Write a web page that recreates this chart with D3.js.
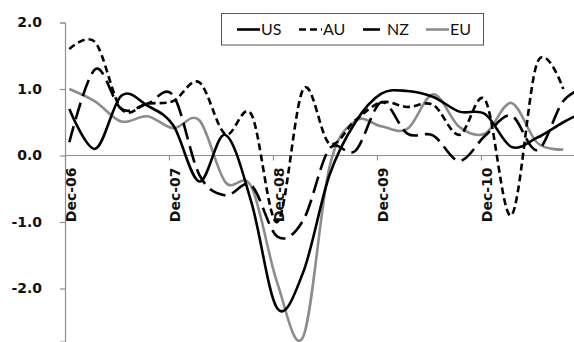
<!DOCTYPE html>
<html><head><meta charset="utf-8">
<script src="https://cdn.jsdelivr.net/npm/d3@7"></script>
<style>body{margin:0;background:#fff}svg{display:block}</style>
</head><body><svg id="c" width="574" height="342"></svg>
<script>
const quarters = ["Dec-06","Mar-07","Jun-07","Sep-07","Dec-07","Mar-08","Jun-08","Sep-08","Dec-08","Mar-09","Jun-09","Sep-09","Dec-09","Mar-10","Jun-10","Sep-10","Dec-10","Mar-11","Jun-11","Sep-11","Dec-11"];
const yearLabels = ["Dec-06","Dec-07","Dec-08","Dec-09","Dec-10"];
const yTicks = [2, 1, 0, -1, -2];
const us = [0.7, 0.1, 0.9, 0.75, 0.45, -0.39, 0.31, -0.7, -2.3, -1.75, -0.3, 0.5, 0.93, 0.97, 0.88, 0.66, 0.62, 0.13, 0.27, 0.5, 0.7];
const au = [1.6, 1.7, 0.7, 0.78, 0.82, 1.1, 0.32, 0.62, -1.0, 1.0, 0.18, 0.53, 0.8, 0.73, 0.76, 0.31, 0.83, -0.9, 1.4, 1.0, null];
const nz = [0.2, 1.3, 0.7, 0.78, 0.9, -0.29, -0.6, -0.45, -1.22, -0.97, 0.1, 0.07, 0.8, 0.33, 0.3, -0.08, 0.3, 0.6, 0.08, 0.82, 1.05];
const eu = [1.0, 0.81, 0.51, 0.59, 0.41, 0.53, -0.4, -0.47, -1.92, -2.72, -0.18, 0.52, 0.44, 0.4, 0.92, 0.43, 0.33, 0.79, 0.19, 0.09, null];
const seriesNames = ["US", "AU", "NZ", "EU"];

const svg = d3.select("#c");
const W = 574, H = 342;
const x = d3.scaleLinear().domain([-0.5, 59.5]).range([65, 585]);
const y = d3.scaleLinear().domain([-2.8, 2.0]).range([341.7, 22.5]);
const monthOf = q => q * 3;
const axisColor = "#8f8f8f";
const tickFont = "'DejaVu Sans', sans-serif";
const legFont = "Lato, 'Open Sans', sans-serif";

svg.append("defs").append("clipPath").attr("id","pc")
  .append("rect").attr("x",65).attr("y",0).attr("width",W-65).attr("height",H);

// y axis
const yAxis = d3.axisLeft(y).tickValues(yTicks).tickSize(5).tickPadding(18)
  .tickFormat(d => d.toFixed(1));
const gy = svg.append("g").attr("transform","translate(65,0)").call(yAxis);
gy.select(".domain").attr("stroke",axisColor).attr("stroke-width",1.2);
gy.selectAll(".tick line").attr("stroke",axisColor).attr("stroke-width",1.2);
gy.selectAll(".tick text").attr("font-family",tickFont).attr("font-weight","700")
  .attr("font-size","14px").attr("fill","#111");

// x axis at zero
const tickMonths = yearLabels.map((d,i)=>i*12 - 0.5);
const xAxis = d3.axisBottom(x).tickValues(tickMonths).tickSize(5).tickFormat("");
const gx = svg.append("g").attr("transform",`translate(0,${y(0)})`).call(xAxis);
gx.select(".domain").attr("d",`M65,0H${W}`).attr("stroke",axisColor).attr("stroke-width",1.2);
gx.selectAll(".tick line").attr("stroke",axisColor).attr("stroke-width",1.2);

svg.append("g").selectAll("text").data(yearLabels).join("text")
  .attr("transform",(d,i)=>`translate(${x(i*12)+1.5},${y(0)+12}) rotate(-90)`)
  .attr("text-anchor","end").attr("dy","0.36em")
  .attr("font-family",tickFont).attr("font-weight","700").attr("font-size","14px")
  .attr("fill","#111").text(d=>d);

// series
const styles = {
  US:{data:us, stroke:"#000", dash:null},
  AU:{data:au, stroke:"#000", dash:"7,4"},
  NZ:{data:nz, stroke:"#000", dash:"17,7"},
  EU:{data:eu, stroke:"#8c8c8c", dash:null}
};
const line = d3.line().defined(d=>d.v!=null)
  .x(d=>x(monthOf(d.q))).y(d=>y(d.v)).curve(d3.curveCardinal.tension(0));
const gl = svg.append("g").attr("clip-path","url(#pc)");
["EU","NZ","AU","US"].forEach(name=>{
  const s = styles[name];
  const pts = s.data.map((v,q)=>({q,v})).filter(d=>d.v!=null);
  gl.append("path").datum(pts).attr("d",line).attr("fill","none")
    .attr("stroke",s.stroke).attr("stroke-width",2.6)
    .attr("stroke-dasharray",s.dash).attr("stroke-linejoin","round");
});

// legend
const lg = svg.append("g");
lg.append("rect").attr("x",221.5).attr("y",13.5).attr("width",262).attr("height",31.5)
  .attr("fill","#fff").attr("stroke","#555").attr("stroke-width",1);
const legX = [237, 299, 363, 426];
seriesNames.forEach((name,i)=>{
  const s = styles[name];
  lg.append("line").attr("x1",legX[i]).attr("x2",legX[i]+23).attr("y1",29.5).attr("y2",29.5)
    .attr("stroke",s.stroke).attr("stroke-width",2.6).attr("stroke-dasharray",s.dash);
  lg.append("text").attr("x",legX[i]+24).attr("y",29.5).attr("dy","0.35em")
    .attr("font-family",legFont).attr("font-size","16px").attr("fill","#111").text(name);
});
</script></body></html>
